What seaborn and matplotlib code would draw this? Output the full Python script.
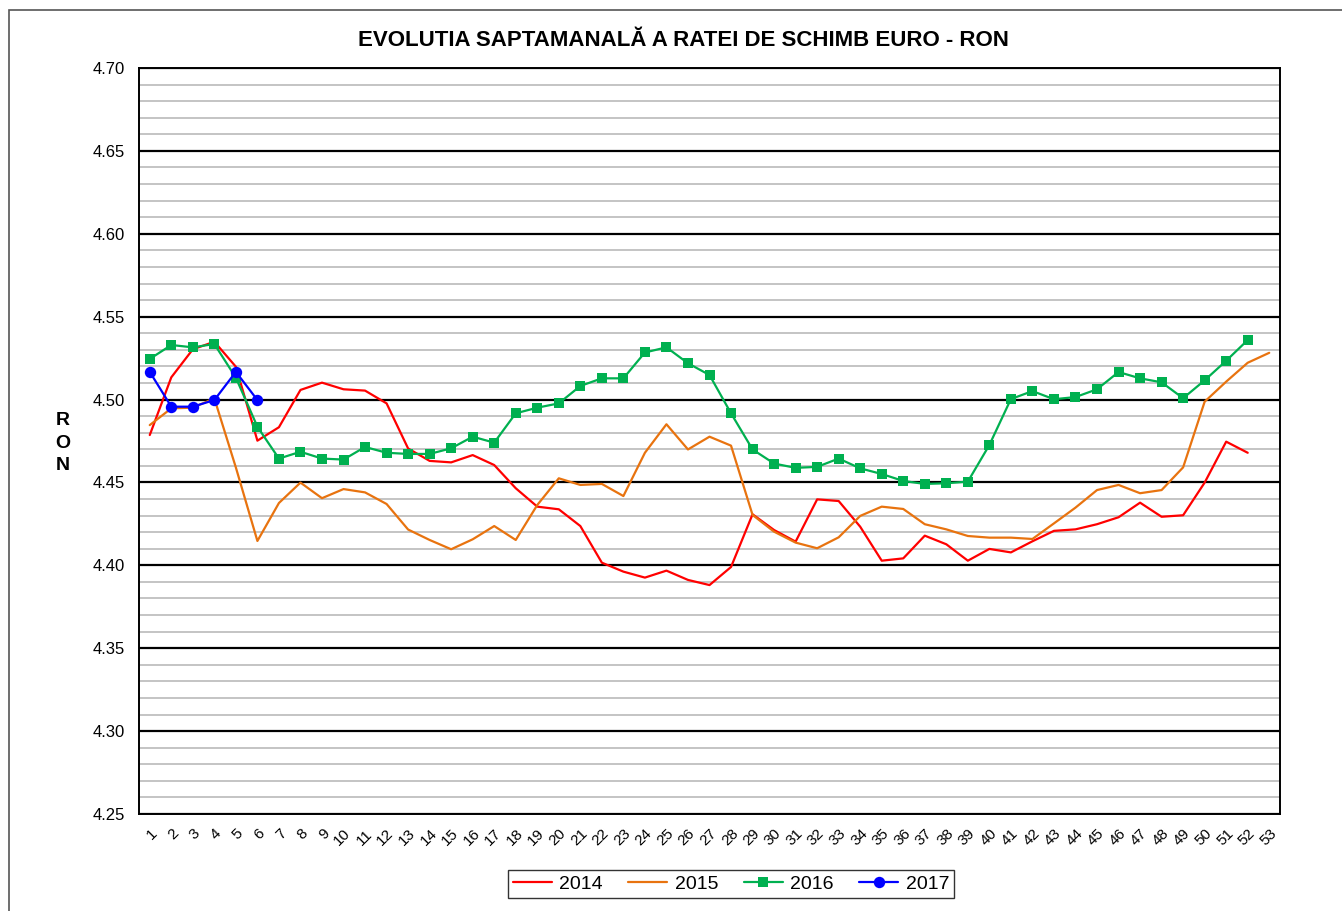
import numpy as np
import pandas as pd
import matplotlib
matplotlib.use("Agg")
import matplotlib.pyplot as plt
import matplotlib.patches as mpatches
from matplotlib.ticker import FixedLocator, FormatStrFormatter
import seaborn as sns

# =====================================================================
# DATE
# =====================================================================
weeks = list(range(1, 54))

rate_2014 = [4.4786, 4.5134, 4.5303, 4.5349, 4.5198, 4.4752, 4.4833, 4.5058, 4.5102, 4.5062,
             4.5054, 4.4977, 4.4705, 4.4630, 4.4621, 4.4665, 4.4605, 4.4465, 4.4354, 4.4338,
             4.4237, 4.4016, 4.3962, 4.3926, 4.3968, 4.3912, 4.3881, 4.3990, 4.4308, 4.4213,
             4.4143, 4.4398, 4.4388, 4.4233, 4.4028, 4.4042, 4.4179, 4.4127, 4.4028, 4.4099,
             4.4078, 4.4145, 4.4208, 4.4217, 4.4248, 4.4290, 4.4378, 4.4293, 4.4302, 4.4499,
             4.4746, 4.4679]

rate_2015 = [4.4846, 4.4947, 4.4951, 4.5007, 4.4590, 4.4147, 4.4376, 4.4499, 4.4405, 4.4460,
             4.4440, 4.4370, 4.4216, 4.4153, 4.4097, 4.4157, 4.4237, 4.4153, 4.4364, 4.4525,
             4.4485, 4.4491, 4.4418, 4.4679, 4.4851, 4.4699, 4.4776, 4.4722, 4.4304, 4.4203,
             4.4137, 4.4103, 4.4169, 4.4298, 4.4354, 4.4340, 4.4248, 4.4217, 4.4177, 4.4167,
             4.4167, 4.4159, 4.4253, 4.4348, 4.4454, 4.4485, 4.4435, 4.4454, 4.4591, 4.4987,
             4.5108, 4.5222, 4.5282]

rate_2016 = [4.5245, 4.5329, 4.5315, 4.5335, 4.5132, 4.4836, 4.4644, 4.4685, 4.4644, 4.4638,
             4.4714, 4.4679, 4.4672, 4.4672, 4.4706, 4.4776, 4.4740, 4.4917, 4.4951, 4.4977,
             4.5082, 4.5128, 4.5128, 4.5284, 4.5315, 4.5219, 4.5148, 4.4917, 4.4699, 4.4614,
             4.4588, 4.4594, 4.4644, 4.4585, 4.4551, 4.4509, 4.4491, 4.4495, 4.4505, 4.4726,
             4.5003, 4.5051, 4.5002, 4.5015, 4.5062, 4.5166, 4.5128, 4.5104, 4.5008, 4.5116,
             4.5234, 4.5359]

rate_2017 = [4.5167, 4.4957, 4.4957, 4.4997, 4.5167, 4.4997]

week_labels = [str(w) for w in weeks]
y_major = [4.25, 4.30, 4.35, 4.40, 4.45, 4.50, 4.55, 4.60, 4.65, 4.70]
title = "EVOLUTIA SAPTAMANALĂ A RATEI DE SCHIMB EURO - RON"

# =====================================================================
# STIL
# =====================================================================
sns.set_theme(style="white")
plt.rcParams["font.family"] = ["Liberation Sans", "DejaVu Sans"]
plt.rcParams.update({
    "text.color": "black",
    "axes.labelcolor": "black",
    "xtick.color": "black",
    "ytick.color": "black",
})

fig = plt.figure(figsize=(13.42, 9.11), dpi=100)
ax = fig.add_axes([139 / 1342, 1 - 814 / 911, (1280 - 139) / 1342, (814 - 68) / 911])

# chenar exterior
fig.patches.append(mpatches.Rectangle((9 / 1342, -0.02), 1.02, 1 - 10 / 911 + 0.02,
                                      transform=fig.transFigure, fill=False,
                                      edgecolor="#555555", linewidth=1.2))

series = [
    ("2014", rate_2014, "#FF0000", None),
    ("2015", rate_2015, "#E8730F", None),
    ("2016", rate_2016, "#00B050", "s"),
    ("2017", rate_2017, "#0000FF", "o"),
]

for name, vals, col, mk in series:
    df = pd.DataFrame({"week": weeks[:len(vals)], "rate": vals})
    kw = {}
    if mk == "s":
        kw = dict(marker="s", markersize=7.8, markeredgewidth=0)
    elif mk == "o":
        kw = dict(marker="o", markersize=8.2, markeredgewidth=0)
    sns.lineplot(data=df, x="week", y="rate", color=col, linewidth=1.6,
                 label=name, ax=ax, **kw)

# axe
ax.set_xlim(0.5, 53.5)
ax.set_ylim(4.25, 4.70)
ax.yaxis.set_major_locator(FixedLocator(y_major))
ax.yaxis.set_major_formatter(FormatStrFormatter("%.2f"))
ax.yaxis.set_minor_locator(FixedLocator(np.arange(4.26, 4.70, 0.01)))
ax.grid(which="minor", axis="y", color="#BFBFBF", linewidth=1.3)
ax.grid(which="major", axis="y", color="black", linewidth=1.6)
ax.grid(False, axis="x")
ax.set_axisbelow(True)

ax.xaxis.set_major_locator(FixedLocator(weeks))
ax.set_xticklabels(week_labels, rotation=45, ha="right", rotation_mode="anchor", fontsize=11)
ax.xaxis.set_minor_locator(FixedLocator(np.arange(0.5, 54, 1)))
ax.tick_params(axis="x", which="major", length=0, pad=9)
ax.tick_params(axis="x", which="minor", length=8, direction="inout", width=1, color="black")
ax.tick_params(axis="y", which="major", length=6, direction="out", width=1, color="black",
               labelsize=12, pad=4)
ax.tick_params(axis="y", which="minor", length=6, direction="out", width=1, color="black")

for s in ax.spines.values():
    s.set_color("black")
    s.set_linewidth(1.4)

ax.set_xlabel("")
ax.set_ylabel("")
fig.text(63 / 1342, 1 - 443 / 911, "R\nO\nN", fontsize=14, fontweight="bold",
         ha="center", va="center", linespacing=1.45)
fig.text(683 / 1342, 1 - 40 / 911, title, fontsize=16, fontweight="bold",
         ha="center", va="center")

ax.legend_.remove()
handles, labels = ax.get_legend_handles_labels()
leg = fig.legend(handles, labels, loc="center", bbox_to_anchor=(731 / 1342, 1 - 884 / 911),
                 ncol=4, fontsize=14, frameon=True, fancybox=False, edgecolor="black",
                 handlelength=2.0, columnspacing=1.3, handletextpad=0.4,
                 borderpad=0.25)
leg.get_frame().set_linewidth(1.0)

fig.savefig("out.png", dpi=100, facecolor="white")
